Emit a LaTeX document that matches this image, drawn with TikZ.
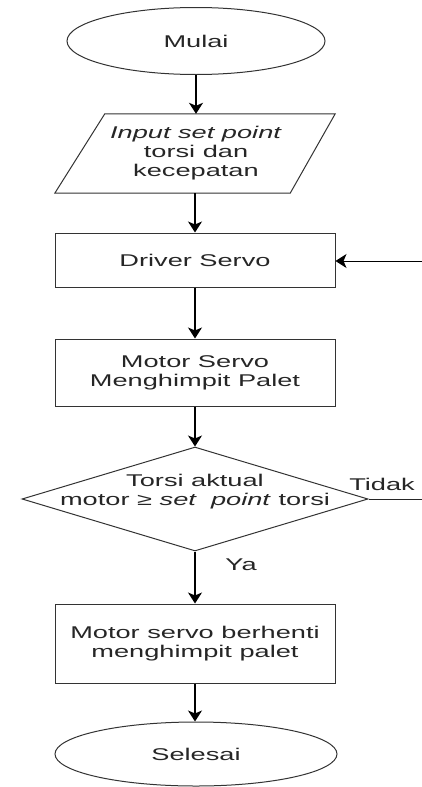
\documentclass[tikz,border=0pt]{standalone}
\usepackage{fontspec}
\setmainfont{Liberation Sans}[FakeStretch=1.6]
\usetikzlibrary{shapes.geometric,arrows.meta,calc}
\begin{document}
\begin{tikzpicture}[x=1pt,y=-1pt,
  shapeline/.style={draw=black!80, line width=1pt},
  lbl/.style={font=\fontsize{17}{19}\selectfont, text=black!85, align=center},
  procbox/.style={shapeline, lbl, rectangle, minimum width=280pt, inner sep=0pt},
  termbox/.style={shapeline, lbl, ellipse, inner sep=0pt},
  flow/.style={-{Stealth[length=11pt,width=14pt,inset=3pt]}, line width=1.3pt, black},
  loopline/.style={line width=1pt, black!85}
]
\useasboundingbox (0,0) rectangle (422,787);

\node[termbox, minimum width=258pt, minimum height=67pt] (mulai) at (196,41) {Mulai};

\node[lbl, rectangle, minimum width=232pt, minimum height=79pt, inner sep=0pt] (input) at (196,153.5)
  {\textit{Input set point}\\torsi dan\\kecepatan};
\draw[shapeline] ($(input.north west)+(25,0)$) -- ($(input.north east)+(23,0)$)
  -- ($(input.south east)+(-22,0)$) -- ($(input.south west)+(-25,0)$) -- cycle;

\node[procbox, minimum height=54pt] (driver) at (195,260) {Driver Servo};
\node[procbox, minimum height=67pt] (motor) at (195,372.5) {Motor Servo\\Menghimpit Palet};

\node[diamond, shapeline, minimum width=346pt, minimum height=104pt, inner sep=0pt] (dec) at (195,499) {};
\node[lbl] (dectext) at (195,492) {Torsi aktual\\motor ≥ \textit{set\ \ point} torsi};

\node[procbox, minimum height=79pt] (stop) at (195,643.5) {Motor servo berhenti\\menghimpit palet};
\node[termbox, minimum width=282pt, minimum height=64pt] (selesai) at (196,754) {Selesai};

\node[lbl] (tidak) at (382,484) {Tidak};
\node[lbl] (ya) at (241,565) {Ya};

\coordinate (loopA) at (422,499);
\coordinate (loopB) at (422,261);

\draw[flow] (mulai.south) -- (mulai.south |- input.north);
\draw[flow] (input.south -| driver.north) -- (driver.north);
\draw[flow] (driver.south) -- (motor.north);
\draw[flow] (motor.south) -- (dec.north);
\draw[flow] (dec.south) -- (stop.north);
\draw[flow] (stop.south) -- (stop.south |- selesai.north);
\draw[loopline] (dec.east) -- (loopA);
\draw[flow, line width=1pt] (loopB) -- (loopB -| driver.east);
\end{tikzpicture}
\end{document}
